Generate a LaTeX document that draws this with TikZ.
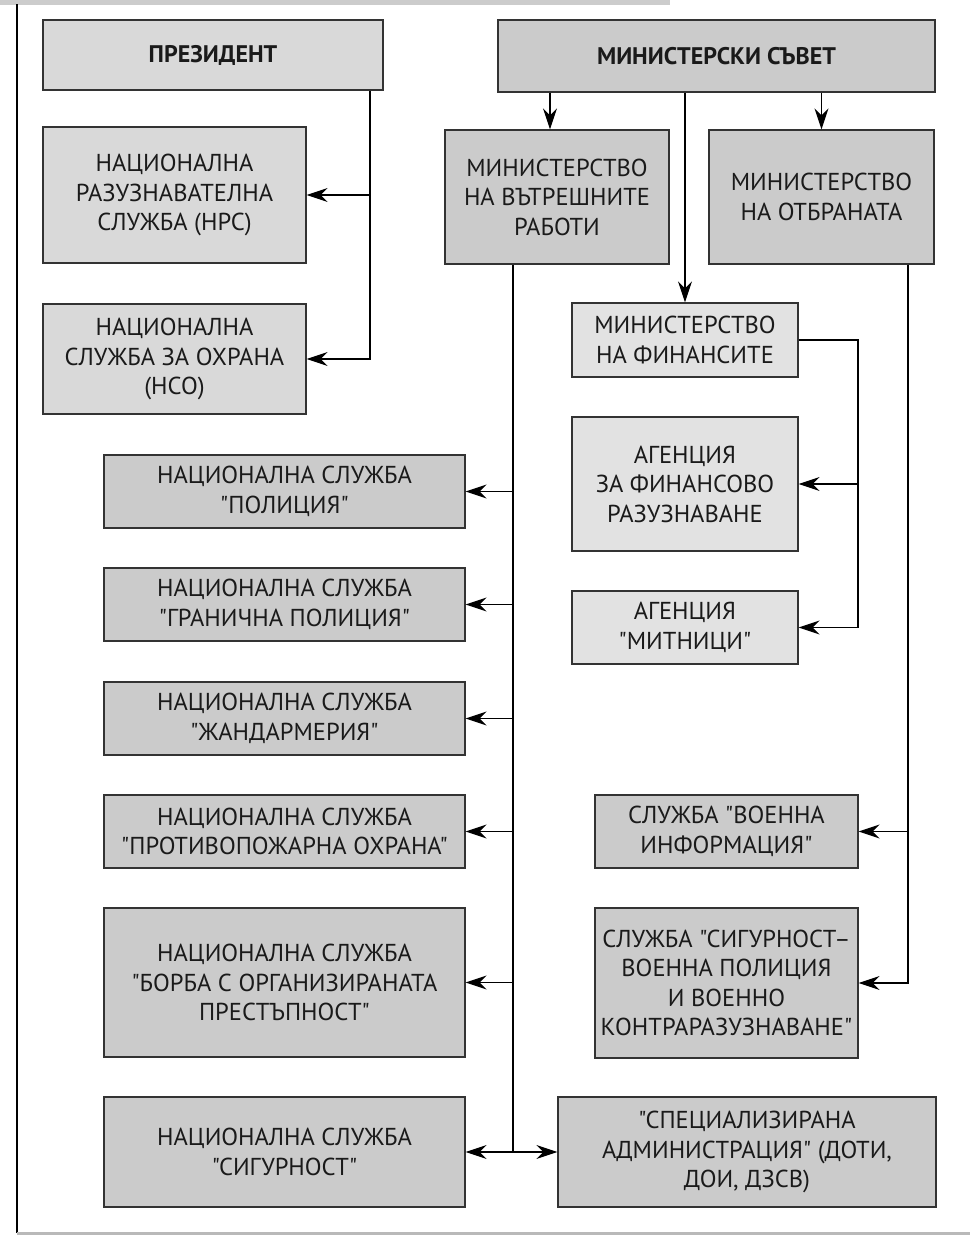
\documentclass[tikz,border=0pt]{standalone}
\usepackage{fontspec}
\newfontfamily\boxfont{PT Sans}
\usetikzlibrary{arrows.meta,calc}
\definecolor{boxlight}{HTML}{D9D9D9}
\definecolor{boxlighter}{HTML}{E2E2E2}
\definecolor{boxdark}{HTML}{CBCBCB}
\definecolor{edge}{HTML}{333333}
\definecolor{txt}{HTML}{1A1A1A}
\begin{document}
\begin{tikzpicture}[x=1pt,y=-1pt,
  box/.style={draw=edge, line width=1.3pt, text=txt, align=center, inner sep=2pt,
    font=\boxfont\fontsize{24.5}{29.5}\selectfont},
  lbox/.style={box, fill=boxlight},
  fbox/.style={box, fill=boxlighter},
  dbox/.style={box, fill=boxdark},
  conn/.style={line width=1.2pt, draw=black},
  arr/.style={conn, -{Stealth[length=21pt,width=14pt,inset=7pt]}},
  darr/.style={conn, {Stealth[length=21pt,width=14pt,inset=7pt]}-{Stealth[length=21pt,width=14pt,inset=7pt]}}
]
\useasboundingbox (0,0) rectangle (970,1235);
% frame
\fill[gray!40] (0,0) rectangle (670,5);
\draw[line width=2pt] (17,4) -- (17,1233);
\fill[gray!55] (17,1232) rectangle (970,1234.5);

% top level
\node[lbox, minimum width=340pt, minimum height=70pt, font=\boxfont\fontsize{24}{29}\selectfont\bfseries] (pres) at (213,55) {ПРЕЗИДЕНТ};
\node[dbox, minimum width=437pt, minimum height=72pt, font=\boxfont\fontsize{24}{29}\selectfont\bfseries] (ms) at (716.5,56) {МИНИСТЕРСКИ СЪВЕТ};

% president services
\node[lbox, minimum width=263pt, minimum height=136pt] (nrs) at (174.5,195) {НАЦИОНАЛНА\\РАЗУЗНАВАТЕЛНА\\СЛУЖБА (НРС)};
\node[lbox, minimum width=263pt, minimum height=110pt] (nso) at (174.5,359) {НАЦИОНАЛНА\\СЛУЖБА ЗА ОХРАНА\\(НСО)};

% ministries
\node[dbox, minimum width=224pt, minimum height=134pt] (mvr) at (557,197) {МИНИСТЕРСТВО\\НА ВЪТРЕШНИТЕ\\РАБОТИ};
\node[dbox, minimum width=225pt, minimum height=134pt] (mo) at (821.5,197) {МИНИСТЕРСТВО\\НА ОТБРАНАТА};
\node[fbox, minimum width=226pt, minimum height=74pt] (mf) at (685,340) {МИНИСТЕРСТВО\\НА ФИНАНСИТЕ};
\node[fbox, minimum width=226pt, minimum height=134pt] (afr) at (685,484) {АГЕНЦИЯ\\ЗА ФИНАНСОВО\\РАЗУЗНАВАНЕ};
\node[fbox, minimum width=226pt, minimum height=73pt] (mit) at (685,627.5) {АГЕНЦИЯ\\"МИТНИЦИ"};

% MVR services
\node[dbox, minimum width=361pt, minimum height=73pt] (pol) at (284.5,491.5) {НАЦИОНАЛНА СЛУЖБА\\"ПОЛИЦИЯ"};
\node[dbox, minimum width=361pt, minimum height=73pt] (gp) at (284.5,604.5) {НАЦИОНАЛНА СЛУЖБА\\"ГРАНИЧНА ПОЛИЦИЯ"};
\node[dbox, minimum width=361pt, minimum height=73pt] (zh) at (284.5,718.5) {НАЦИОНАЛНА СЛУЖБА\\"ЖАНДАРМЕРИЯ"};
\node[dbox, minimum width=361pt, minimum height=73pt] (pp) at (284.5,831.5) {НАЦИОНАЛНА СЛУЖБА\\"ПРОТИВОПОЖАРНА ОХРАНА"};
\node[dbox, minimum width=361pt, minimum height=149pt] (boc) at (284.5,982.5) {НАЦИОНАЛНА СЛУЖБА\\"БОРБА С ОРГАНИЗИРАНАТА\\ПРЕСТЪПНОСТ"};
\node[dbox, minimum width=361pt, minimum height=110pt] (sig) at (284.5,1152) {НАЦИОНАЛНА СЛУЖБА\\"СИГУРНОСТ"};
\node[dbox, minimum width=378pt, minimum height=110pt] (spec) at (747,1152) {"СПЕЦИАЛИЗИРАНА\\АДМИНИСТРАЦИЯ" (ДОТИ,\\ДОИ, ДЗСВ)};

% MO services
\node[dbox, minimum width=263pt, minimum height=73pt] (vi) at (726.5,831.5) {СЛУЖБА "ВОЕННА\\ИНФОРМАЦИЯ"};
\node[dbox, minimum width=263pt, minimum height=150pt] (svp) at (726.5,983) {СЛУЖБА "СИГУРНОСТ–\\ВОЕННА ПОЛИЦИЯ\\И ВОЕННО\\КОНТРАРАЗУЗНАВАНЕ"};

% connector rails
\coordinate (pv) at (370,0);
\coordinate (mv) at (513,0);
\coordinate (fv) at (858,0);
\coordinate (ov) at (908,0);

% president
\draw[arr] (pres.south -| pv) |- (nso.east);
\draw[arr] (pv |- nrs.east) -- (nrs.east);

% council
\draw[arr] ($(ms.south -| mvr.north)+(-7,0)$) -- ($(mvr.north)+(-7,0)$);
\draw[arr] (ms.south -| mo.north) -- (mo.north);
\draw[arr] (ms.south -| mf.north) -- (mf.north);

% MVR
\draw[conn] (mvr.south -| mv) -- (mv |- sig.east);
\draw[arr] (mv |- pol.east) -- (pol.east);
\draw[arr] (mv |- gp.east) -- (gp.east);
\draw[arr] (mv |- zh.east) -- (zh.east);
\draw[arr] (mv |- pp.east) -- (pp.east);
\draw[arr] (mv |- boc.east) -- (boc.east);
\draw[darr] (sig.east) -- (spec.west);

% MF
\draw[arr] (mf.east) -- (mf.east -| fv) |- (mit.east);
\draw[arr] (fv |- afr.east) -- (afr.east);

% MO
\draw[arr] (mo.south -| ov) |- (svp.east);
\draw[arr] (ov |- vi.east) -- (vi.east);
\end{tikzpicture}
\end{document}
